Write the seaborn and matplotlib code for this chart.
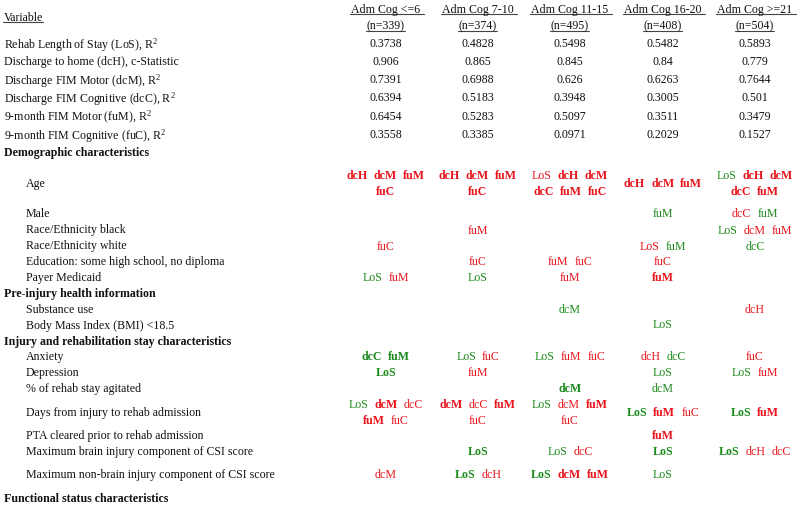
import matplotlib
matplotlib.use('Agg')
import matplotlib.pyplot as plt
import seaborn as sns

# ---- data ----
groups = ["Adm Cog <=6", "Adm Cog 7-10", "Adm Cog 11-15", "Adm Cog 16-20", "Adm Cog >=21"]
group_n = [339, 374, 495, 408, 504]

outcome_labels = [
    "Rehab Length of Stay (LoS), R$^2$",
    "Discharge to home (dcH), c-Statistic",
    "Discharge FIM Motor (dcM), R$^2$",
    "Discharge FIM Cognitive (dcC), R$^2$",
    "9-month FIM Motor (fuM), R$^2$",
    "9-month FIM Cognitive (fuC), R$^2$",
]
fit_le6 = ["0.3738", "0.906", "0.7391", "0.6394", "0.6454", "0.3558"]
fit_7_10 = ["0.4828", "0.865", "0.6988", "0.5183", "0.5283", "0.3385"]
fit_11_15 = ["0.5498", "0.845", "0.626", "0.3948", "0.5097", "0.0971"]
fit_16_20 = ["0.5482", "0.84", "0.6263", "0.3005", "0.3511", "0.2029"]
fit_ge21 = ["0.5893", "0.779", "0.7644", "0.501", "0.3479", "0.1527"]

# "+" = green, "-" = red, "*" = bold, "/" = new line
demographic = [
    ("Age", ["-dcH* -dcM* -fuM* / -fuC*", "-dcH* -dcM* -fuM* / -fuC*",
             "-LoS -dcH* -dcM* / -dcC* -fuM* -fuC*", "-dcH* -dcM* -fuM*",
             "+LoS -dcH* -dcM* / -dcC* -fuM*"]),
    ("Male", ["", "", "", "+fuM", "-dcC +fuM"]),
    ("Race/Ethnicity black", ["", "-fuM", "", "", "+LoS -dcM -fuM"]),
    ("Race/Ethnicity white", ["-fuC", "", "", "-LoS +fuM", "+dcC"]),
    ("Education: some high school, no diploma", ["", "-fuC", "-fuM -fuC", "-fuC", ""]),
    ("Payer Medicaid", ["+LoS -fuM", "+LoS", "-fuM", "-fuM*", ""]),
]
pre_injury = [
    ("Substance use", ["", "", "+dcM", "", "-dcH"]),
    ("Body Mass Index (BMI) <18.5", ["", "", "", "+LoS", ""]),
]
injury_rehab = [
    ("Anxiety", ["+dcC* +fuM*", "+LoS -fuC", "+LoS -fuM -fuC", "-dcH +dcC", "-fuC"]),
    ("Depression", ["+LoS*", "-fuM", "", "+LoS", "+LoS -fuM"]),
    ("% of rehab stay agitated", ["", "", "+dcM*", "+dcM", ""]),
    ("Days from injury to rehab admission",
     ["+LoS -dcM* -dcC / -fuM* -fuC", "-dcM* -dcC -fuM* / -fuC",
      "+LoS -dcM -fuM* / -fuC", "+LoS* -fuM* -fuC", "+LoS* -fuM*"]),
    ("PTA cleared prior to rehab admission", ["", "", "", "-fuM*", ""]),
    ("Maximum brain injury component of CSI score", ["", "+LoS*", "+LoS -dcC", "+LoS*", "+LoS* -dcH -dcC"]),
    ("Maximum non-brain injury component of CSI score", ["-dcM", "+LoS* -dcH", "+LoS* -dcM* -fuM*", "+LoS", ""]),
]

# ---- style ----
sns.set_theme(style='white')
plt.rcParams['font.family'] = ['Liberation Serif', 'DejaVu Serif']
plt.rcParams['mathtext.fontset'] = 'custom'
plt.rcParams['mathtext.rm'] = 'Liberation Serif'
plt.rcParams['mathtext.default'] = 'rm'

RED = '#e8141c'
GREEN = '#1b8a1b'
INK = '#111111'
FS = 8.6
GAP = 6

fig = plt.figure(figsize=(8, 5.06), dpi=100)
ax = fig.add_axes([0, 0, 1, 1])
ax.set_xlim(0, 800)
ax.set_ylim(506, 0)
ax.axis('off')
renderer = fig.canvas.get_renderer()

col_x = [386, 478, 570, 663, 755]


def width(t):
    return t.get_window_extent(renderer).width


def underline(t, y, pad=0):
    bb = t.get_window_extent(renderer)
    ax.plot([bb.x0 - 1, bb.x1 + pad], [y, y], color='#444444', lw=0.8)


def draw_line(xc, y, line):
    toks = line.split()
    texts = []
    for tok in toks:
        color = GREEN if tok[0] == '+' else RED
        bold = tok.endswith('*')
        name = tok[1:].rstrip('*')
        texts.append(ax.text(0, y, name, color=color, fontsize=FS,
                             fontweight='bold' if bold else 'normal',
                             ha='left', va='center_baseline'))
    ws = [width(t) for t in texts]
    x = xc - (sum(ws) + GAP * (len(ws) - 1)) / 2
    for t, w in zip(texts, ws):
        t.set_x(x)
        x += w + GAP


def draw_cell(xc, y, cell):
    if not cell:
        return
    lines = [s.strip() for s in cell.split('/')]
    if len(lines) == 1:
        draw_line(xc, y, lines[0])
    else:
        draw_line(xc, y - 7.8, lines[0])
        draw_line(xc, y + 7.8, lines[1])


# header
t = ax.text(4, 16.7, "Variable", fontsize=FS, color=INK, va='center_baseline')
underline(t, 23)
for xc, g, n in zip(col_x, groups, group_n):
    t1 = ax.text(xc, 8.5, g, fontsize=FS, color=INK, ha='center', va='center_baseline')
    t2 = ax.text(xc, 25, f"(n={n})", fontsize=FS, color=INK, ha='center', va='center_baseline')
    underline(t1, 15, pad=3)
    underline(t2, 31.5)

# model fit rows
fit_cols = [fit_le6, fit_7_10, fit_11_15, fit_16_20, fit_ge21]
fit_y = [42.5, 60.5, 78.3, 96.7, 115, 133.3]
for i, (lab, y) in enumerate(zip(outcome_labels, fit_y)):
    ax.text(4, y, lab, fontsize=FS, color=INK, va='center_baseline')
    for xc, vals in zip(col_x, fit_cols):
        ax.text(xc, y, vals[i], fontsize=FS, color=INK, ha='center', va='center_baseline')

# predictor sections
sections = [
    ("Demographic characteristics", 151.7, demographic,
     [182.7, 212.7, 229, 245, 260.7, 276.7]),
    ("Pre-injury health information", 292.7, pre_injury, [308.3, 324]),
    ("Injury and rehabilitation stay characteristics", 340, injury_rehab,
     [355.7, 371.7, 387.7, 411.3, 435, 451, 474]),
]
for title, ty, rows, ys in sections:
    ax.text(4, ty, title, fontsize=FS, fontweight='bold', color=INK, va='center_baseline')
    for (lab, cells), y in zip(rows, ys):
        ax.text(26, y, lab, fontsize=FS, color=INK, va='center_baseline')
        for xc, cell in zip(col_x, cells):
            draw_cell(xc, y, cell)

ax.text(4, 497.3, "Functional status characteristics", fontsize=FS, fontweight='bold',
        color=INK, va='center_baseline')

fig.savefig('out.png', dpi=100)
